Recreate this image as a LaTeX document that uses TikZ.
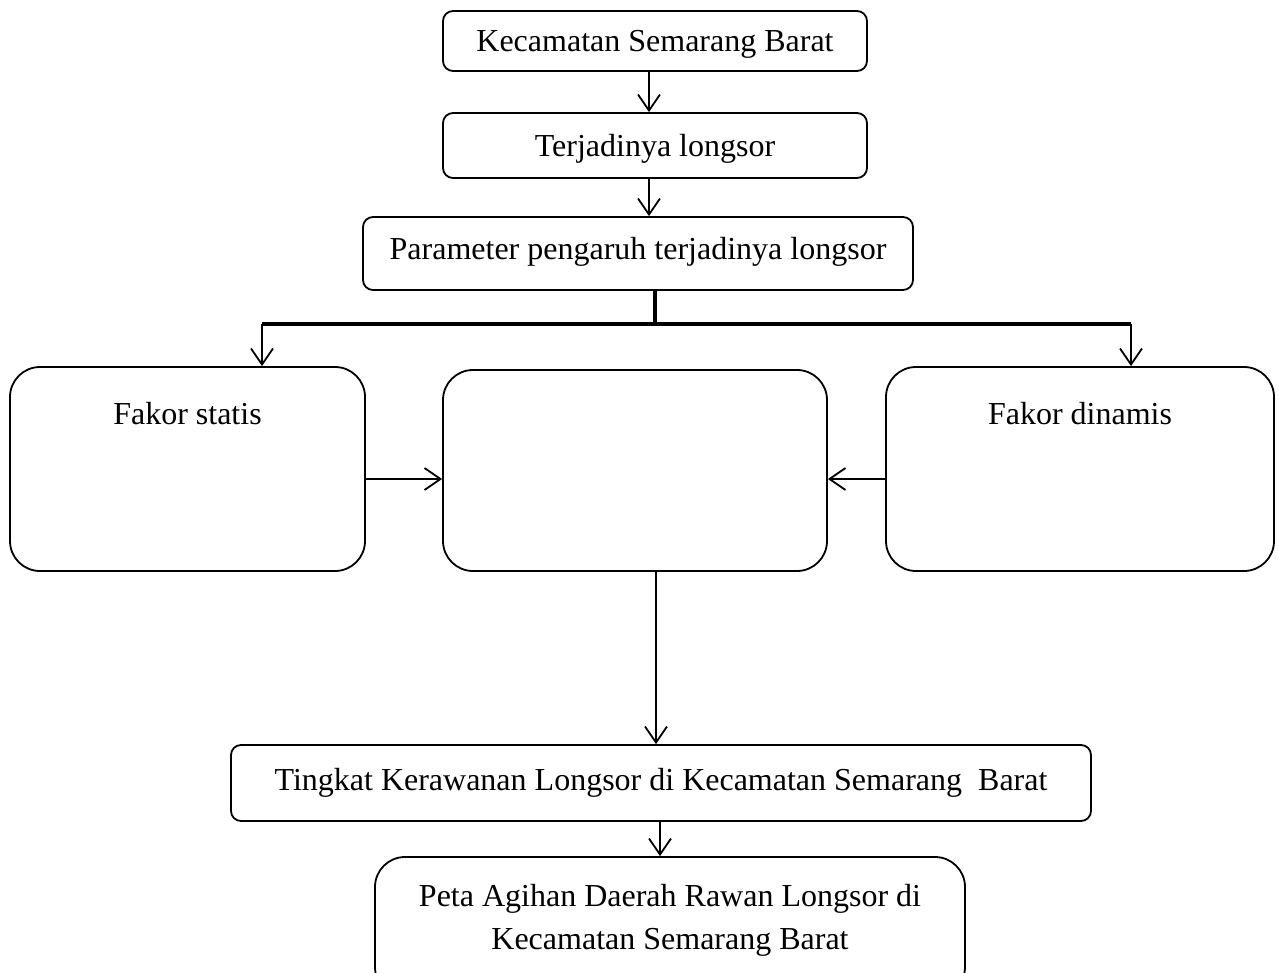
\documentclass[tikz,border=0pt]{standalone}
\usepackage{fontspec}
\setmainfont{Liberation Serif}
\usetikzlibrary{arrows.meta}
\begin{document}
\begin{tikzpicture}[x=1pt,y=-1pt,
  every node/.style={font=\fontsize{32}{43}\selectfont},
  box/.style={draw, line width=1.8pt, rounded corners=10pt, inner sep=0pt},
  bigbox/.style={draw, line width=1.8pt, rounded corners=30pt, inner sep=0pt},
  txt/.style={inner sep=0pt, align=center},
  arr/.style={line width=1.8pt, -{Straight Barb[length=16pt,width=22pt]}},
  bar/.style={line width=3.6pt}]
\useasboundingbox (0,0) rectangle (1279,973);
\node[box, minimum width=424pt, minimum height=60pt, text height=22pt, text depth=0pt] (kec) at (655,41) {Kecamatan Semarang Barat};
\node[box, minimum width=424pt, minimum height=65pt, text height=23pt, text depth=0pt] (ter) at (655,145.5) {Terjadinya longsor};
\node[box, minimum width=550pt, minimum height=73pt, text height=22pt, text depth=9pt] (par) at (638,253.5) {Parameter pengaruh terjadinya longsor};
\node[bigbox, minimum width=355pt, minimum height=204pt] (sta) at (187.5,469) {};
\node[bigbox, minimum width=384pt, minimum height=201pt] (mid) at (635,470.5) {};
\node[bigbox, minimum width=388pt, minimum height=204pt] (din) at (1080,469) {};
\node[txt] (statxt) at ([yshift=-47pt]sta.north) {Fakor statis};
\node[txt] (dintxt) at ([yshift=-47pt]din.north) {Fakor dinamis};
\node[box, minimum width=860pt, minimum height=76pt, text height=22pt, text depth=8pt] (tin) at (661,783) {Tingkat Kerawanan Longsor di Kecamatan Semarang\ \ Barat};
\node[bigbox, minimum width=590pt, minimum height=140pt] (pet) at (670,927) {};
\node[txt] (pettxt) at (670,920) {Peta Agihan Daerah Rawan Longsor di\\Kecamatan Semarang Barat};
% connectors
\draw[arr] ([xshift=-6pt]kec.south) -- ([xshift=-6pt]ter.north);
\draw[arr] ([xshift=-6pt]ter.south) -- ([xshift=-6pt]ter.south |- par.north);
\coordinate (hub) at (655,324);
\coordinate (lft) at (262,324);
\coordinate (rgt) at (1131,324);
\draw[bar] ([xshift=17pt]par.south) -- (hub);
\draw[bar] (lft) -- (rgt);
\draw[arr] (lft) -- (lft |- sta.north);
\draw[arr] (rgt) -- (rgt |- din.north);
\draw[arr] ([yshift=-10pt]sta.east) -- ([yshift=-10pt]sta.east -| mid.west);
\draw[arr] ([yshift=-10pt]din.west) -- ([yshift=-10pt]din.west -| mid.east);
\draw[arr] ([xshift=21pt]mid.south) -- ([xshift=21pt]mid.south |- tin.north);
\draw[arr] ([xshift=-1pt]tin.south) -- ([xshift=-1pt]tin.south |- pet.north);
\end{tikzpicture}
\end{document}
